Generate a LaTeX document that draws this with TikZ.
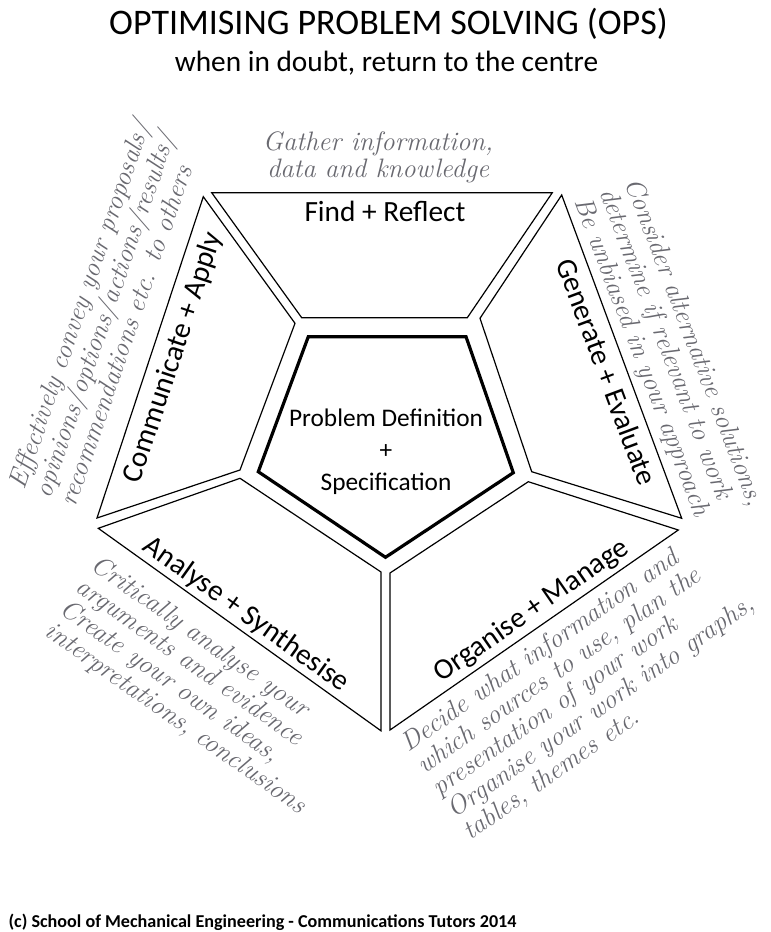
\documentclass[tikz,border=0pt]{standalone}
\usepackage{fontspec}
\setmainfont{Carlito}
\newfontfamily\annfont{Latin Modern Roman}
\usetikzlibrary{calc}
\definecolor{anncol}{RGB}{105,105,112}
\tikzset{
  seg/.style={draw=black, line width=0.9pt, line join=miter},
  core/.style={draw=black, line width=2.4pt, line join=miter},
  lab/.style={font=\fontsize{22}{26}\selectfont, inner sep=0pt, anchor=base},
  ann/.style={font=\annfont\itshape\fontsize{20}{20.25}\selectfont, text=anncol, inner sep=0pt, align=left, anchor=north west},
}
\begin{document}
\begin{tikzpicture}[x=0.75pt,y=-0.75pt]
\useasboundingbox (0,0) rectangle (771,932);
% titles
\node[anchor=base, font=\fontsize{27}{30}\selectfont, inner sep=0] (title) at (388.5,34) {OPTIMISING PROBLEM SOLVING (OPS)};
\node[anchor=base, font=\fontsize{22}{26}\selectfont, inner sep=0] (sub) at (386.5,71) {when in doubt, return to the centre};
% segments
\draw[seg] (211.7,192.7) -- (552.3,192.7) -- (467.3,317.7) -- (301.7,317.7) -- cycle;
\draw[seg] (203.3,196.7) -- (295,323.3) -- (240,470) -- (97,518) -- cycle;
\draw[seg] (561.7,195) -- (681.7,518.3) -- (531.7,471.7) -- (480,318.3) -- cycle;
\draw[seg] (98.3,528.3) -- (240,478.3) -- (381,572) -- (381,730.8) -- cycle;
\draw[seg] (390,573) -- (528.3,481.7) -- (678.3,530) -- (390,730) -- cycle;
% centre
\draw[core] (308.3,336.7) -- (466,336.7) -- (513.3,472.7) -- (385.5,557.3) -- (258.3,471.7) -- cycle;
\node[font=\fontsize{19}{24}\selectfont, align=center, inner sep=0] (core) at (386,452) {Problem Definition\\+\\Specification};
% labels
\node[lab] (find) at (385,221) {Find + Reflect};
\node[lab, rotate=71.7] (comm) at (181,360) {Communicate + Apply};
\node[lab, rotate=-69.6] (gen) at (597.6,375.5) {Generate + Evaluate};
\node[lab, rotate=-35.6] (ana) at (241.8,620.9) {Analyse + Synthesise};
\node[lab, rotate=34.7] (org) at (536.2,617) {Organise + Manage};
% annotations
\node[ann, align=center, anchor=north] (gather) at (378,131.5) {Gather information,\\data and knowledge};
\begin{scope}[shift={(23,490)}, rotate=71, transform shape]
\node[ann] (convey) at (0,-18.5) {Effectively convey your proposals/\\opinions/options/actions/results/\\recommendations etc. to others};
\end{scope}
\begin{scope}[shift={(625,182)}, rotate=-69, transform shape]
\node[ann] (consider) at (0,-18.5) {Consider alternative solutions,\\determine if relevant to work\\Be unbiased in your approach};
\end{scope}
\begin{scope}[shift={(90,568)}, rotate=-35, transform shape]
\node[ann] (critic) at (0,-18.5) {Critically analyse your\\arguments and evidence\\Create your own ideas,\\interpretations, conclusions};
\end{scope}
\begin{scope}[shift={(408,752)}, rotate=35, transform shape]
\node[ann] (decide) at (0,-18.5) {Decide what information and\\which sources to use, plan the\\presentation of your work\\Organise your work into graphs,\\tables, themes etc.};
\end{scope}
% footer
\node[anchor=base west, font=\bfseries\fontsize{13.6}{16}\selectfont, inner sep=0] (foot) at (8.3,927.5) {(c) School of Mechanical Engineering - Communications Tutors 2014};
\end{tikzpicture}
\end{document}
